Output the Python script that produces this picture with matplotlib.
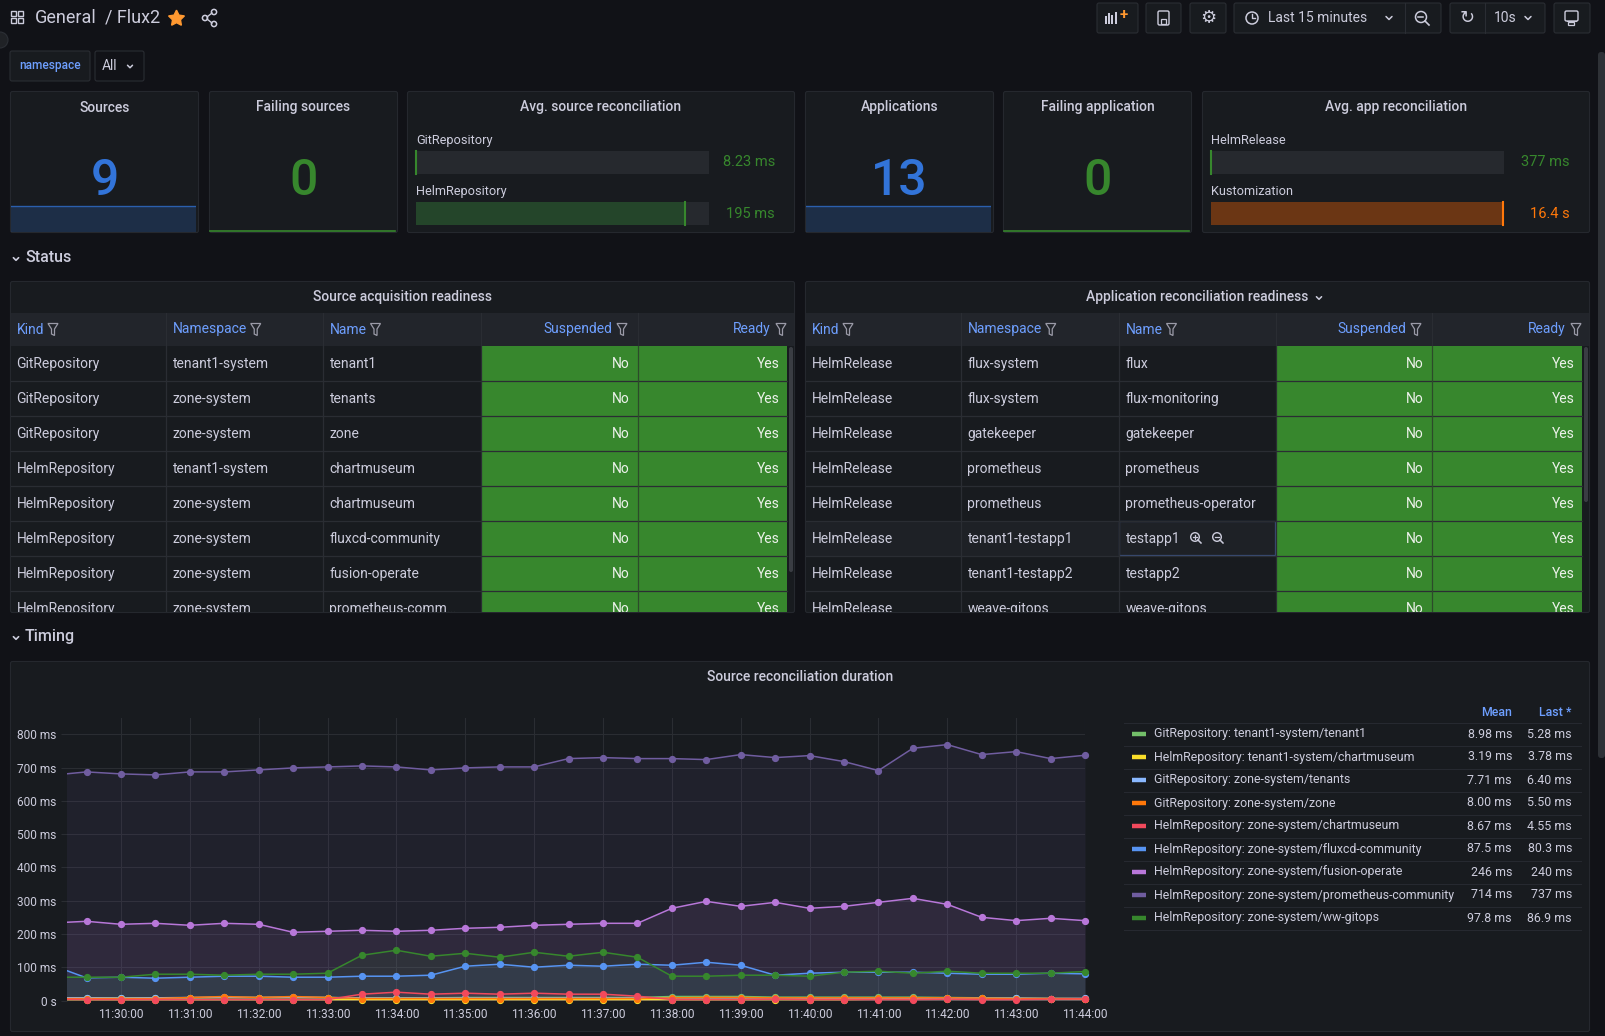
import matplotlib
matplotlib.use("Agg")
import matplotlib.pyplot as plt
import matplotlib.dates as mdates
from matplotlib.patches import Rectangle, FancyBboxPatch, Polygon, Circle
from matplotlib.ticker import FuncFormatter, MultipleLocator
import pandas as pd

plt.rcParams['font.family'] = ['Roboto', 'DejaVu Sans']

W, H = 1606, 1036

PAGE = "#111217"
PANEL = "#181b1f"
BORDER = "#25282e"
HEAD = "#22252b"
SEP = "#2a2d33"
TEXT = "#ccccdc"
DIM = "#8e8e9b"
LINK = "#6e9fff"
GREEN = "#37872d"
BLUE = "#3274d9"
ORANGE = "#ff780a"
TRACK = "#26292e"

# ---------------- data ----------------
stat_titles = ["Sources", "Failing sources", "Applications", "Failing application"]
stat_values = [9, 0, 13, 0]
sources_trend = [9, 9, 9, 9, 9, 9, 9, 9]
failing_src_trend = [0, 0, 0, 0, 0, 0, 0, 0]
apps_trend = [13, 13, 13, 13, 13, 13, 13, 13]
failing_app_trend = [0, 0, 0, 0, 0, 0, 0, 0]

src_gauge_names = ["GitRepository", "HelmRepository"]
src_gauge_ms = [8.23, 195]
src_gauge_text = ["8.23 ms", "195 ms"]
app_gauge_names = ["HelmRelease", "Kustomization"]
app_gauge_s = [0.377, 16.4]
app_gauge_text = ["377 ms", "16.4 s"]

table_cols = ["Kind", "Namespace", "Name", "Suspended", "Ready"]
src_kind = ["GitRepository", "GitRepository", "GitRepository", "HelmRepository",
            "HelmRepository", "HelmRepository", "HelmRepository", "HelmRepository"]
src_ns = ["tenant1-system", "zone-system", "zone-system", "tenant1-system",
          "zone-system", "zone-system", "zone-system", "zone-system"]
src_name = ["tenant1", "tenants", "zone", "chartmuseum", "chartmuseum",
            "fluxcd-community", "fusion-operate", "prometheus-comm\u2026"]
src_susp = ["No", "No", "No", "No", "No", "No", "No", "No"]
src_ready = ["Yes", "Yes", "Yes", "Yes", "Yes", "Yes", "Yes", "Yes"]

app_kind = ["HelmRelease", "HelmRelease", "HelmRelease", "HelmRelease",
            "HelmRelease", "HelmRelease", "HelmRelease", "HelmRelease"]
app_ns = ["flux-system", "flux-system", "gatekeeper", "prometheus", "prometheus",
          "tenant1-testapp1", "tenant1-testapp2", "weave-gitops"]
app_name = ["flux", "flux-monitoring", "gatekeeper", "prometheus", "prometheus-operator",
            "testapp1", "testapp2", "weave-gitops"]
app_susp = ["No", "No", "No", "No", "No", "No", "No", "No"]
app_ready = ["Yes", "Yes", "Yes", "Yes", "Yes", "Yes", "Yes", "Yes"]

times = pd.date_range("2022-01-01 11:29:00", "2022-01-01 11:44:00", freq="30s").to_pydatetime()

series_names = [
    "GitRepository: tenant1-system/tenant1",
    "HelmRepository: tenant1-system/chartmuseum",
    "GitRepository: zone-system/tenants",
    "GitRepository: zone-system/zone",
    "HelmRepository: zone-system/chartmuseum",
    "HelmRepository: zone-system/fluxcd-community",
    "HelmRepository: zone-system/fusion-operate",
    "HelmRepository: zone-system/prometheus-community",
    "HelmRepository: zone-system/ww-gitops",
]
series_colors = ["#73bf69", "#fade2a", "#8ab8ff", "#ff780a", "#f2495c",
                 "#5794f2", "#b877d9", "#705da0", "#37872d"]
tenant1 = [8, 8, 8, 8, 8, 9, 9, 9, 9, 8, 8, 8, 9, 9, 9, 9, 9, 9, 12, 12,
           12, 10, 10, 10, 10, 10, 9, 8, 7, 6, 5.3]
tenant1_chart = [3, 3, 3, 3, 3, 3, 3, 3, 3, 3, 3, 3, 3, 3, 3, 3, 3, 3, 3, 3,
                 3, 3, 3, 3, 4, 4, 4, 4, 4, 4, 3.8]
tenants = [8, 8, 7, 8, 9, 10, 9, 10, 9, 7, 7, 7, 7, 7, 7, 7, 7, 7, 8, 8,
           8, 8, 7, 7, 7, 7, 7, 7, 7, 6, 6.4]
zone = [6, 6, 6, 6, 9, 12, 9, 12, 9, 6, 6, 6, 6, 6, 6, 6, 6, 6, 8, 9,
        9, 8, 8, 8, 8, 8, 8, 7, 6, 6, 5.5]
zone_chart = [4, 3, 3, 3, 3, 3, 3, 3, 3, 19, 25, 19, 22, 19, 22, 19, 19, 13, 3, 3,
              3, 4, 3, 3, 3, 3, 4, 3, 3, 4, 4.55]
fluxcd = [106, 68, 70, 67, 70, 73, 73, 70, 70, 73, 73, 76, 103, 109, 100, 106, 103, 109, 106, 115,
          106, 76, 82, 85, 85, 85, 82, 79, 79, 82, 80]
fusion = [233, 238, 229, 232, 226, 232, 229, 205, 208, 211, 208, 211, 217, 220, 226, 229, 232, 232, 277, 298,
          283, 295, 277, 283, 295, 307, 289, 250, 240, 247, 240]
prom_comm = [677, 687, 681, 678, 687, 687, 693, 699, 702, 705, 702, 693, 699, 702, 702, 727, 730, 727, 727, 724,
             739, 730, 736, 718, 691, 758, 769, 739, 748, 727, 737]
ww_gitops = [70, 70, 70, 79, 79, 76, 79, 79, 82, 136, 151, 133, 142, 130, 145, 133, 145, 130, 73, 73,
             76, 76, 73, 85, 88, 82, 88, 82, 82, 82, 87]
series_values = [tenant1, tenant1_chart, tenants, zone, zone_chart, fluxcd, fusion, prom_comm, ww_gitops]
legend_mean = ["8.98 ms", "3.19 ms", "7.71 ms", "8.00 ms", "8.67 ms", "87.5 ms", "246 ms", "714 ms", "97.8 ms"]
legend_last = ["5.28 ms", "3.78 ms", "6.40 ms", "5.50 ms", "4.55 ms", "80.3 ms", "240 ms", "737 ms", "86.9 ms"]

# ---------------- helpers ----------------
fig = plt.figure(figsize=(W / 100, H / 100), dpi=100, facecolor=PAGE)
renderer = fig.canvas.get_renderer()


def rect(x0, y0, x1, y1):
    return [x0 / W, 1 - y1 / H, (x1 - x0) / W, (y1 - y0) / H]


def pix_axes(x0, y0, x1, y1, z=1):
    a = fig.add_axes(rect(x0, y0, x1, y1), zorder=z)
    a.set_xlim(x0, x1)
    a.set_ylim(y1, y0)
    a.axis("off")
    return a


bg = pix_axes(0, 0, W, H, z=0)


def box(a, x0, y0, x1, y1, fc, ec=None, r=2, lw=0.8):
    a.add_patch(FancyBboxPatch((x0, y0), x1 - x0, y1 - y0,
                               boxstyle="round,pad=0,rounding_size=%s" % r,
                               fc=fc, ec=ec if ec else "none", lw=lw))


def panel(x0, y0, x1, y1, title=None, ty=None):
    box(bg, x0 + 0.5, y0 + 0.5, x1 - 0.5, y1 - 0.5, PANEL, BORDER)
    if title:
        bg.text((x0 + x1) / 2, ty if ty else y0 + 16, title, ha="center", va="center",
                color=TEXT, fontsize=10, fontweight="medium")


def chevron(a, x, y, s=3.0, color=TEXT, lw=1.1):
    a.plot([x - s, x, x + s], [y - s / 2, y + s / 2, y - s / 2], color=color, lw=lw,
           solid_capstyle="round")


def funnel(a, cx, cy, color="#9b9ba8"):
    pts = [(cx - 5, cy - 6), (cx + 5, cy - 6), (cx + 1.5, cy - 0.5), (cx + 1.5, cy + 6),
           (cx - 1.5, cy + 4.5), (cx - 1.5, cy - 0.5)]
    a.add_patch(Polygon(pts, closed=True, fc="none", ec=color, lw=0.9))


def text_width(t):
    return t.get_window_extent(renderer).width


# ---------------- top bar ----------------
for dx in (0, 7):
    for dy in (0, 7):
        bg.add_patch(Rectangle((11 + dx, 11 + dy), 5, 5, fc="none", ec=TEXT, lw=1.0))
bg.text(35, 18, "General", ha="left", va="center", color=TEXT, fontsize=13)
bg.text(105, 18, "/ Flux2", ha="left", va="center", color=TEXT, fontsize=13)
bg.plot(176, 17.5, marker=(5, 1, 0), ms=12, color="#ff9830", mec="#ff9830")
for (px, py) in [(205, 18), (214, 12), (214, 24)]:
    bg.add_patch(Circle((px, py), 2.6, fc="none", ec=TEXT, lw=1.1))
bg.plot([207, 212], [17, 13], color=TEXT, lw=1.0)
bg.plot([207, 212], [19, 23], color=TEXT, lw=1.0)
bg.add_patch(Circle((0, 40), 8, fc="#202226", ec="#2c2f35", lw=0.8))

for (x0, x1) in [(1097, 1138), (1146, 1181), (1190, 1226), (1234, 1441), (1450, 1545), (1554, 1590)]:
    box(bg, x0, 3, x1, 33, PANEL, "#2a2d33", r=2)
bg.plot([1405, 1405], [3, 33], color="#2a2d33", lw=0.8)
bg.plot([1485, 1485], [3, 33], color="#2a2d33", lw=0.8)
# add panel icon
for i, hgt in enumerate([8, 11, 9, 12]):
    bg.add_patch(Rectangle((1105 + i * 3.2, 24 - hgt), 2, hgt, fc=TEXT, ec="none"))
bg.text(1124, 15, "+", ha="center", va="center", color="#ff9830", fontsize=11, fontweight="bold")
# save icon
box(bg, 1158, 11, 1169, 25, "none", TEXT, r=1.5, lw=1.0)
bg.add_patch(Rectangle((1161, 19), 5, 5, fc="none", ec=TEXT, lw=0.9))
# gear
bg.text(1208, 18, "\u2699", ha="center", va="center", color=TEXT, fontsize=13, family="DejaVu Sans")
# clock
bg.add_patch(Circle((1252, 18), 6, fc="none", ec=TEXT, lw=1.1))
bg.plot([1252, 1252, 1255], [14, 18, 18], color=TEXT, lw=1.0)
bg.text(1268, 18, "Last 15 minutes", ha="left", va="center", color=TEXT, fontsize=10)
chevron(bg, 1389, 18)
# zoom out
bg.add_patch(Circle((1421, 17), 5.5, fc="none", ec=TEXT, lw=1.1))
bg.plot([1425, 1429], [21, 25], color=TEXT, lw=1.2)
bg.plot([1418.5, 1423.5], [17, 17], color=TEXT, lw=1.1)
# refresh
bg.text(1467, 18, "\u21bb", ha="center", va="center", color=TEXT, fontsize=13, family="DejaVu Sans")
bg.text(1494, 18, "10s", ha="left", va="center", color=TEXT, fontsize=10)
chevron(bg, 1528, 18)
# tv
box(bg, 1565, 11, 1578, 21, "none", TEXT, r=1.5, lw=1.0)
bg.plot([1567, 1576], [21, 21], color=TEXT, lw=0.8)
bg.add_patch(Rectangle((1568.5, 22), 6, 3, fc="none", ec=TEXT, lw=0.9))

# scrollbar
box(bg, 1598, 52, 1605, 758, "#2e3136", r=3)

# namespace variable
box(bg, 10, 51, 90, 81, PANEL, "#2a2d33", r=2)
bg.text(50, 66, "namespace", ha="center", va="center", color=LINK, fontsize=8.6, fontweight="medium")
box(bg, 95, 51, 144, 81, PAGE, "#2a2d33", r=2)
bg.text(102, 66, "All", ha="left", va="center", color=TEXT, fontsize=10)
chevron(bg, 130, 66.5, s=2.5)

# ---------------- stat panels ----------------
stat_boxes = [(10, 91, 199, 233), (209, 91, 398, 233), (805, 91, 994, 233), (1003, 91, 1192, 233)]
stat_trends = [sources_trend, failing_src_trend, apps_trend, failing_app_trend]
stat_colors = [BLUE, GREEN, BLUE, GREEN]
for (x0, y0, x1, y1), title, val, trend, col in zip(stat_boxes, stat_titles, stat_values, stat_trends, stat_colors):
    panel(x0, y0, x1, y1, title, ty=107.5)
    bg.text((x0 + x1) / 2, 181, str(val), ha="center", va="center", color=col,
            fontsize=36, fontweight="medium")
    sp = fig.add_axes(rect(x0 + 1, 205, x1 - 3, 232), zorder=1)
    sp.axis("off")
    xs = list(range(len(trend)))
    top = max(trend)
    if top > 0:
        sp.set_ylim(0, top * 1.03)
        sp.fill_between(xs, trend, 0, color=col, alpha=0.22, lw=0)
        sp.plot(xs, trend, color=col, lw=1.0, alpha=0.7)
    else:
        sp.set_ylim(-0.02, 1)
        sp.plot(xs, trend, color=col, lw=1.2, clip_on=False)
    sp.set_xlim(0, len(trend) - 1)


# ---------------- bar gauges ----------------
def gauge_panel(x0, x1, title, names, values, texts, vmin, vmax, cols, fills):
    panel(x0, 91, x1, 233, title, ty=107.5)
    tx0, tx1 = x0 + 9, x1 - 86
    for i, (nm, v, tx, c, fcol) in enumerate(zip(names, values, texts, cols, fills)):
        ly = 140.5 + i * 51
        by0 = 151 + i * 51
        bg.text(tx0, ly, nm, ha="left", va="center", color=TEXT, fontsize=9.2)
        g = fig.add_axes(rect(tx0, by0, tx1, by0 + 23), zorder=1)
        g.set_facecolor(TRACK)
        for s in g.spines.values():
            s.set_visible(False)
        g.set_xticks([])
        g.set_yticks([])
        g.set_xlim(vmin, vmax)
        g.set_ylim(-0.5, 0.5)
        g.barh(0, v, height=1, color=fcol)
        g.plot([v, v], [-0.5, 0.5], color=c, lw=1.5, clip_on=False)
        bg.text(x1 - 20, by0 + 11.5, tx, ha="right", va="center", color=c, fontsize=10.5)


gauge_panel(407, 795, "Avg. source reconciliation", src_gauge_names, src_gauge_ms, src_gauge_text,
            8.0, 212, [GREEN, GREEN], ["#24452a", "#24452a"])
gauge_panel(1202, 1590, "Avg. app reconciliation", app_gauge_names, app_gauge_s, app_gauge_text,
            0.36, 16.45, [GREEN, ORANGE], ["#24452a", "#6b3614"])

# ---------------- row headers ----------------
chevron(bg, 16, 259, s=2.6, lw=1.2)
bg.text(25, 258, "Status", ha="left", va="center", color=TEXT, fontsize=11.5, fontweight="medium")
chevron(bg, 16, 638, s=2.6, lw=1.2)
bg.text(25, 637, "Timing", ha="left", va="center", color=TEXT, fontsize=11.5, fontweight="medium")


# ---------------- tables ----------------
def table(x0, x1, edges, title, cols, data, highlight=None, thumb=(346, 572)):
    panel(x0, 281, x1, 613, title, ty=297)
    bg.add_patch(Rectangle((x0 + 1, 313), x1 - x0 - 2, 33, fc=HEAD, ec="none"))
    for e in edges[1:-1]:
        bg.plot([e, e], [313, 346], color=SEP, lw=0.8)
    hy = 329.5
    for j, cname in enumerate(cols):
        if j < 3:
            t = bg.text(edges[j] + 6.5, hy, cname, ha="left", va="center", color=LINK, fontsize=10)
            funnel(bg, edges[j] + 6.5 + text_width(t) + 9, hy)
        else:
            right = edges[j + 1] if j < 4 else x1
            fc = right - 16 if j < 4 else right - 14
            bg.text(fc - 10, hy, cname, ha="right", va="center", color=LINK, fontsize=10)
            funnel(bg, fc, hy)

    body_r = x1 - 8
    bd = pix_axes(x0 + 1, 346, x1 - 1, 612, z=1)
    nrows = len(data[0])
    for i in range(nrows):
        top = 346 + i * 35
        cy = top + 17.5
        if highlight == i:
            bd.add_patch(Rectangle((x0 + 1, top), edges[3] - x0 - 1, 35, fc="#1e2126", ec="none"))
        bd.add_patch(Rectangle((edges[3], top), edges[4] - edges[3], 35, fc=GREEN, ec="none"))
        bd.add_patch(Rectangle((edges[4], top), body_r - edges[4], 35, fc=GREEN, ec="none"))
        bd.plot([x0 + 1, body_r], [top + 35, top + 35], color=SEP, lw=0.9)
        for j in range(3):
            bd.text(edges[j] + 6.5, cy, data[j][i], ha="left", va="center", color=TEXT,
                    fontsize=10, clip_on=True)
        bd.text(edges[4] - 8, cy, data[3][i], ha="right", va="center", color="#eef2ec",
                fontsize=10, clip_on=True)
        bd.text(body_r - 7, cy, data[4][i], ha="right", va="center", color="#eef2ec",
                fontsize=10, clip_on=True)
    for e in edges[1:4]:
        bd.plot([e, e], [346, 613], color=SEP, lw=0.9)
    bd.plot([edges[4], edges[4]], [346, 613], color="#2c4a2a", lw=0.9)
    box(bd, body_r + 2, thumb[0], body_r + 6, thumb[1], "#3a3d43", r=2)
    return bd


table(10, 795, [10, 166, 323, 481, 638, 795], "Source acquisition readiness", table_cols,
      [src_kind, src_ns, src_name, src_susp, src_ready], thumb=(347, 572))
bd2 = table(805, 1590, [805, 961, 1119, 1276, 1432, 1590], "Application reconciliation readiness",
            table_cols, [app_kind, app_ns, app_name, app_susp, app_ready], highlight=5, thumb=(347, 502))
chevron(bg, 1319, 298, s=2.6)
# hovered name cell with zoom icons
bd2.add_patch(Rectangle((1119.5, 521), 156, 34, fc="none", ec="#3a4d75", lw=0.9))
for k, ix in enumerate([1196, 1218]):
    bd2.add_patch(Circle((ix - 1, 537), 4.3, fc="none", ec=TEXT, lw=1.0))
    bd2.plot([ix + 2, ix + 5], [540, 543], color=TEXT, lw=1.1)
    bd2.plot([ix - 3.2, ix + 1.2], [537, 537], color=TEXT, lw=0.9)
    if k == 0:
        bd2.plot([ix - 1, ix - 1], [534.8, 539.2], color=TEXT, lw=0.9)

# ---------------- time series panel ----------------
panel(10, 661, 1590, 1032, "Source reconciliation duration", ty=677)

ax = fig.add_axes(rect(67, 718, 1085, 1000.5), zorder=2)
ax.set_facecolor("none")
for s in ax.spines.values():
    s.set_visible(False)
GRID = "#2a2d32"
for vals, col in zip(series_values, series_colors):
    ax.fill_between(times, vals, 0, color=col, alpha=0.1, lw=0, zorder=2)
    ax.plot(times, vals, color=col, lw=1.1, zorder=3)
    ax.plot(times[1:], vals[1:], "o", ms=4.2, color=col, mec=col, clip_on=False, zorder=4)

ax.set_xlim(pd.Timestamp("2022-01-01 11:29:13").to_pydatetime(), times[-1])
ax.set_ylim(0, 849)
ax.yaxis.set_major_locator(MultipleLocator(100))
ax.yaxis.set_major_formatter(FuncFormatter(lambda v, p: "0 s" if v == 0 else "%d ms" % v))
ax.xaxis.set_major_locator(mdates.MinuteLocator(byminute=range(30, 45)))
ax.xaxis.set_major_formatter(mdates.DateFormatter("%H:%M:%S"))
ax.grid(True, color=GRID, lw=0.8, zorder=0)
ax.set_axisbelow(True)
ax.tick_params(axis="y", length=4, width=0.8, color=GRID, pad=3.5, labelsize=8.6, labelcolor=TEXT)
ax.tick_params(axis="x", length=0, pad=5.5, labelsize=8.6, labelcolor=TEXT)

# legend table
LX0, LX1 = 1124, 1581
MEAN_R, LAST_R = 1512, 1572
bg.text(MEAN_R, 712, "Mean", ha="right", va="center", color=LINK, fontsize=8.9, fontweight="medium")
bg.text(LAST_R, 712, "Last *", ha="right", va="center", color=LINK, fontsize=8.9, fontweight="medium")
bg.plot([LX0, LX1], [723, 723], color="#262930", lw=0.8)
for i, (nm, col, mn, ls) in enumerate(zip(series_names, series_colors, legend_mean, legend_last)):
    ry = 734 + i * 23
    bg.plot([1132, 1146], [ry, ry], color=col, lw=3.2, solid_capstyle="butt")
    bg.text(1154, ry, nm, ha="left", va="center", color=TEXT, fontsize=8.9)
    bg.text(MEAN_R, ry, mn, ha="right", va="center", color=TEXT, fontsize=8.9)
    bg.text(LAST_R, ry, ls, ha="right", va="center", color=TEXT, fontsize=8.9)
    bg.plot([LX0, LX1], [ry + 11.5, ry + 11.5], color="#262930", lw=0.8)

fig.savefig("out.png", dpi=100, facecolor=PAGE)
